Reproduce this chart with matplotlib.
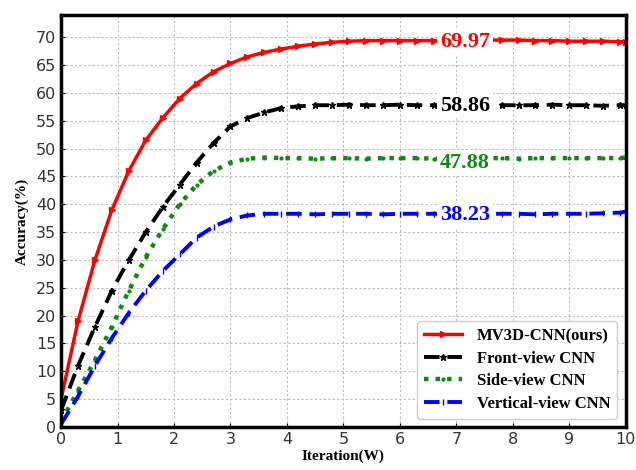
import numpy as np
import matplotlib.pyplot as plt

iteration = [0.0, 0.3, 0.6, 0.9, 1.2, 1.5, 1.8, 2.1, 2.4, 2.7, 3.0, 3.3, 3.6, 3.9, 4.2, 4.5,
             4.8, 5.1, 5.4, 5.7, 6.0, 6.3, 6.6, 6.9, 7.2, 7.5, 7.8, 8.1, 8.4, 8.7, 9.0, 9.3,
             9.6, 9.9, 10.0]

acc_mv3d = [5, 19, 30, 39, 46, 51.5, 55.5, 59, 61.7, 63.8, 65.3, 66.5, 67.3, 67.9, 68.4, 68.8,
            69.1, 69.3, 69.4, 69.4, 69.4, 69.4, 69.4, 69.4, 69.5, 69.5, 69.5, 69.5, 69.4, 69.4,
            69.3, 69.3, 69.3, 69.2, 69.2]
acc_front = [3, 11, 18, 24.5, 30, 35, 39.5, 43.5, 47.5, 51, 54, 55.5, 56.5, 57.3, 57.6, 57.8,
             57.8, 57.9, 57.8, 57.8, 57.9, 57.8, 57.8, 57.8, 57.9, 57.8, 57.8, 57.8, 57.8, 57.9,
             57.8, 57.8, 57.7, 57.8, 57.8]
acc_side = [1, 6.5, 12, 18, 24.5, 30.5, 35.5, 40, 43.5, 46, 47.5, 48.2, 48.4, 48.3,
            48.3, 48.2, 48.3, 48.3, 48.2, 48.3, 48.3, 48.3, 48.2, 48.3, 48.3, 48.3, 48.3, 48.2,
            48.3, 48.3, 48.3, 48.3, 48.3, 48.3, 48.4]
acc_vert = [0.5, 5.5, 11, 16, 20.5, 24.5, 28, 31, 34, 36, 37.3, 38, 38.3,
            38.3, 38.3, 38.2, 38.3, 38.3, 38.3, 38.2, 38.3, 38.3, 38.3, 38.3, 38.2, 38.3, 38.3,
            38.3, 38.2, 38.3, 38.3, 38.3, 38.4, 38.5, 38.7]

labels = ["MV3D-CNN(ours)", "Front-view CNN", "Side-view CNN", "Vertical-view CNN"]
final_acc = ["69.97", "58.86", "47.88", "38.23"]
colors = ["#ff0000", "#000000", "#118811", "#0000ff"]

fig = plt.figure(figsize=(6.36, 4.70), dpi=100)
ax = fig.add_axes([0.096, 0.0915, 0.888, 0.8765])

ax.plot(iteration, acc_mv3d, color=colors[0], linestyle='-', linewidth=2.5,
        marker='>', markersize=4, label=labels[0])
ax.plot(iteration, acc_front, color=colors[1], linestyle=(0, (4, 2)), linewidth=2.8,
        marker='*', markersize=5, label=labels[1])
ax.plot(iteration, acc_side, color=colors[2], linestyle=(0, (1, 1.6)), linewidth=3.2,
        marker='.', markersize=4, label=labels[2])
ax.plot(iteration, acc_vert, color=colors[3], linestyle=(0, (4, 2)), linewidth=2.8,
        marker='|', markersize=5, label=labels[3])

label_y = [69.2, 57.7, 47.4, 38.0]
for y, txt, c in zip(label_y, final_acc, colors):
    ax.text(7.15, y, txt, color=c, fontsize=16, fontweight='bold', family='Liberation Serif',
            ha='center', va='center',
            bbox=dict(facecolor='white', edgecolor='none', pad=2))

ax.set_xlim(0, 10)
ax.set_ylim(0, 74)
ax.set_xticks(range(0, 11))
ax.set_yticks(range(0, 71, 5))
ax.tick_params(direction='in', labelsize=11.5, labelcolor='#333333', length=3)
ax.grid(True, linestyle=(0, (2, 2)), color='#bbbbbb', linewidth=0.8)
for sp in ax.spines.values():
    sp.set_linewidth(2.5)

ax.set_xlabel("Iteration(W)", fontsize=11, fontweight='bold', family='Liberation Serif', labelpad=2)
ax.set_ylabel("Accuracy(%)", fontsize=11, fontweight='bold', family='Liberation Serif', labelpad=5)

ax.legend(loc='lower right', prop={'family': 'Liberation Serif', 'weight': 'bold', 'size': 12},
          handlelength=2.3, handletextpad=0.9, edgecolor='#cccccc', framealpha=1, fancybox=True,
          borderaxespad=0.5, labelspacing=0.4)

plt.savefig("out.png", dpi=100)
